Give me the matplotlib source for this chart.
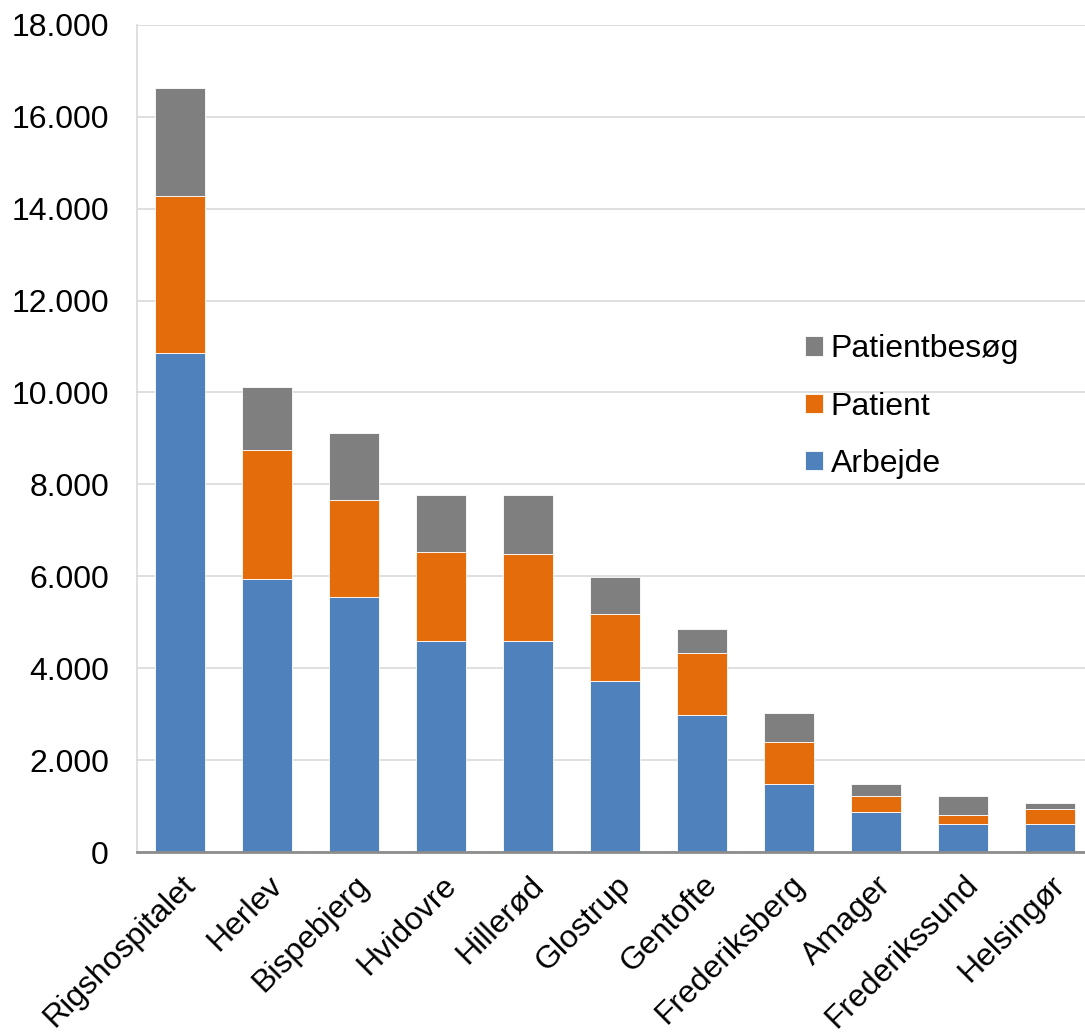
import matplotlib.pyplot as plt
import numpy as np
from matplotlib.ticker import FuncFormatter

hospitals = ["Rigshospitalet", "Herlev", "Bispebjerg", "Hvidovre", "Hillerød", "Glostrup",
             "Gentofte", "Frederiksberg", "Amager", "Frederikssund", "Helsingør"]
arbejde = [10850, 5930, 5540, 4590, 4590, 3720, 2980, 1490, 860, 610, 610]
patient = [3430, 2810, 2110, 1930, 1890, 1450, 1350, 910, 350, 190, 320]
patientbesoeg = [2350, 1370, 1460, 1240, 1280, 810, 520, 620, 270, 420, 140]

plt.rcParams['font.family'] = ['Liberation Sans', 'DejaVu Sans']

fig, ax = plt.subplots(figsize=(10.85, 10.34), dpi=100)
fig.subplots_adjust(left=0.126, right=1.0, top=0.976, bottom=0.176)

x = np.arange(len(hospitals))
w = 0.575
a = np.array(arbejde)
p = np.array(patient)
b = np.array(patientbesoeg)

ax.bar(x, a, w, color='#4F81BD', edgecolor='white', linewidth=0.6, label='Arbejde', zorder=3)
ax.bar(x, p, w, bottom=a, color='#E46C0A', edgecolor='white', linewidth=0.6, label='Patient', zorder=3)
ax.bar(x, b, w, bottom=a + p, color='#7F7F7F', edgecolor='white', linewidth=0.6, label='Patientbesøg', zorder=3)

ax.set_ylim(0, 18000)
ax.set_xlim(-0.5, len(hospitals) - 0.6)
ax.set_yticks(range(0, 18001, 2000))
ax.yaxis.set_major_formatter(FuncFormatter(lambda v, _: f"{int(v):,}".replace(",", ".")))
ax.grid(axis='y', color='#d9d9d9', linewidth=1.2, zorder=0)

ax.set_xticks(x)
ax.set_xticklabels(hospitals, rotation=45, ha='right', rotation_mode='anchor')
ax.tick_params(axis='both', labelsize=23, length=0, colors='black')
ax.tick_params(axis='x', pad=13)
ax.tick_params(axis='y', pad=20)

for s in ['top', 'right']:
    ax.spines[s].set_visible(False)
ax.spines['left'].set_color('#d9d9d9')
ax.spines['left'].set_linewidth(1.2)
ax.spines['bottom'].set_color('#8c8c8c')
ax.spines['bottom'].set_linewidth(2)
ax.spines['bottom'].set_zorder(4)

handles, labels = ax.get_legend_handles_labels()
ax.legend(handles[::-1], labels[::-1], loc='upper left', bbox_to_anchor=(0.705, 0.626),
          frameon=False, fontsize=23, handlelength=0.55, handleheight=0.55,
          handletextpad=0.25, labelspacing=0.86, borderpad=0, borderaxespad=0)

plt.savefig('out.png', dpi=100)
plt.close()
